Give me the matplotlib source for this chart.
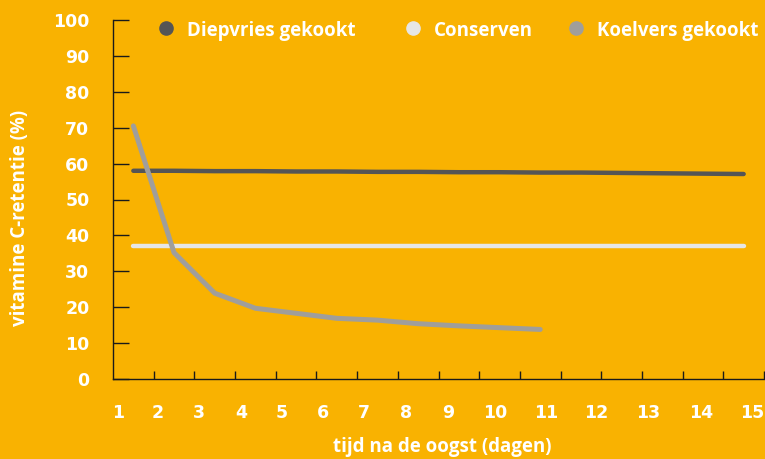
import matplotlib
matplotlib.use("Agg")
import matplotlib.pyplot as plt
from matplotlib.lines import Line2D

plt.rcParams['font.family'] = ['Open Sans', 'DejaVu Sans']

# Data (x = measurement index along the time axis)
x_all = [1, 2, 3, 4, 5, 6, 7, 8, 9, 10, 11, 12, 13, 14, 15, 16]
diepvries = [58.0, 58.0, 57.9, 57.9, 57.8, 57.8, 57.7, 57.7, 57.6, 57.6, 57.5, 57.5, 57.4, 57.3, 57.2, 57.1]
conserven = [37.0, 37.0, 37.0, 37.0, 37.0, 37.0, 37.0, 37.0, 37.0, 37.0, 37.0, 37.0, 37.0, 37.0, 37.0, 37.0]
x_koel = [1, 2, 3, 4, 5, 6, 7, 8, 9, 10, 11]
koelvers = [70.5, 35.2, 23.9, 19.7, 18.3, 16.9, 16.4, 15.4, 14.8, 14.3, 13.8]

series_names = ["Diepvries gekookt", "Conserven", "Koelvers gekookt"]
series_colors = ["#555555", "#E6E6E6", "#A09E9B"]

x_tick_labels = ["1", "2", "3", "4", "5", "6", "7", "8", "9", "10", "11", "12", "13", "14", "15"]
x_tick_label_pos = [0.62, 1.6, 2.6, 3.65, 4.65, 5.66, 6.67, 7.7, 8.75, 9.9, 11.15, 12.38, 13.65, 14.95, 16.2]
y_ticks = [0, 10, 20, 30, 40, 50, 60, 70, 80, 90, 100]

bg = "#F9B201"
num_font = 'DejaVu Sans'
fig = plt.figure(figsize=(7.65, 4.59), dpi=100, facecolor=bg)
ax = fig.add_axes([113/765, 80/459, 651/765, 359/459])
ax.set_facecolor(bg)

ax.plot(x_all, diepvries, color=series_colors[0], lw=3.2, solid_capstyle='round', solid_joinstyle='round')
ax.plot(x_all, conserven, color=series_colors[1], lw=3.2, solid_capstyle='round')
ax.plot(x_koel, koelvers, color=series_colors[2], lw=3.6, solid_capstyle='round', solid_joinstyle='round')

ax.set_xlim(0.5, 16.5)
ax.set_ylim(0, 100)

for s in ['top', 'right']:
    ax.spines[s].set_visible(False)
for s in ['left', 'bottom']:
    ax.spines[s].set_color('#1a1a1a')
    ax.spines[s].set_linewidth(1.0)

ax.set_yticks(y_ticks)
ax.set_yticklabels([str(v) for v in y_ticks])
ax.tick_params(axis='y', direction='in', length=11.5, width=1.0, color='#1a1a1a',
               pad=17, labelsize=12.5, labelcolor='white')
for lab in ax.get_yticklabels():
    lab.set_fontweight('bold')
    lab.set_family(num_font)

ax.set_xticks([i + 0.5 for i in range(1, 17)])
ax.set_xticklabels([])
ax.tick_params(axis='x', which='major', direction='in', length=6, width=1.0, color='#1a1a1a')
ax.set_xticks(x_tick_label_pos, minor=True)
ax.set_xticklabels(x_tick_labels, minor=True)
ax.tick_params(axis='x', which='minor', length=0, pad=18, labelsize=12.5, labelcolor='white')
for lab in ax.get_xticklabels(minor=True):
    lab.set_fontweight('bold')
    lab.set_family(num_font)

fig.text(20/765, 1 - 218/459, "vitamine C-retentie (%)", rotation=90, ha='center', va='center',
         color='white', fontsize=13.5, fontweight='bold')
fig.text(442/765, 1 - 447/459, "tijd na de oogst (dagen)", ha='center', va='center',
         color='white', fontsize=13.5, fontweight='bold')

# Legend (manual)
marker_x = [166, 413, 576]
for mx, name, c in zip(marker_x, series_names, series_colors):
    fig.add_artist(Line2D([mx/765], [1 - 28/459], ls='none', marker='o', markersize=9.5,
                          color=c, transform=fig.transFigure))
    fig.text((mx + 21)/765, 1 - 36/459, name, ha='left', va='baseline', color='white',
             fontsize=13.5, fontweight='bold')

fig.savefig("out.png", dpi=100, facecolor=bg)
